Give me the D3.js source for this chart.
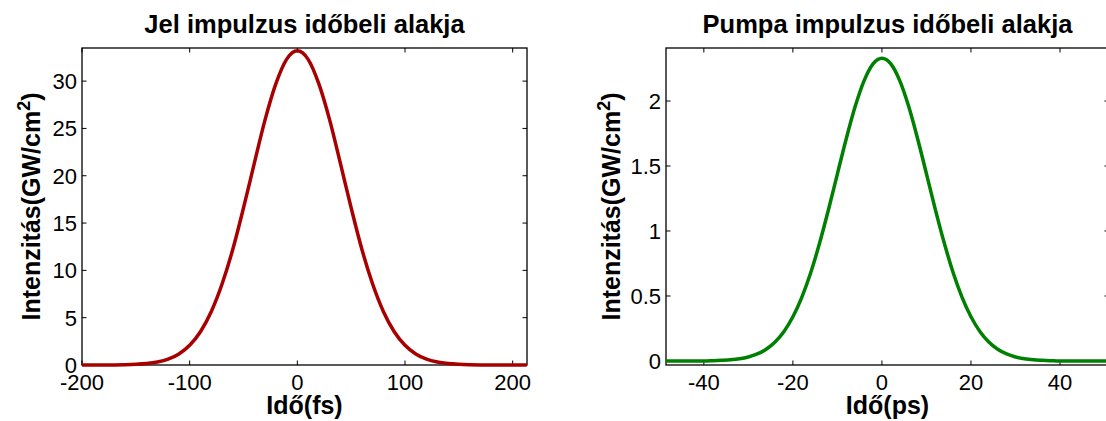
<!DOCTYPE html>
<html>
<head>
<meta charset="utf-8">
<script src="https://cdn.jsdelivr.net/npm/d3@7"></script>
<style>
  body { margin: 0; background: #fff; }
  text { font-family: "Liberation Sans", Arial, sans-serif; fill: #000; }
</style>
</head>
<body>
<div id="chart"></div>
<script>
// Jel impulzus (fs)
const jelTime  = [-200, -190, -180, -170, -160, -150, -140, -130, -120, -110, -100, -90, -80, -70, -60, -50, -40, -30, -20, -10,
                  0, 10, 20, 30, 40, 50, 60, 70, 80, 90, 100, 110, 120, 130, 140, 150, 160, 170, 180, 190, 200, 213];
const jelValue = [0, 0, 0, 0.01, 0.03, 0.07, 0.15, 0.31, 0.61, 1.16, 2.08, 3.51, 5.63, 8.53, 12.2, 16.6, 21.3, 25.9, 29.7, 32.3,
                  33.2, 32.3, 29.7, 25.9, 21.3, 16.6, 12.2, 8.53, 5.63, 3.51, 2.08, 1.16, 0.61, 0.31, 0.15, 0.07, 0.03, 0.01, 0, 0, 0, 0];
const jelXTicks = [-200, -100, 0, 100, 200];
const jelYTicks = [0, 5, 10, 15, 20, 25, 30];

// Pumpa impulzus (ps)
const pumpaTime  = [-48.5, -44, -40, -38, -36, -34, -32, -30, -28, -26, -24, -22, -20, -18, -16, -14, -12, -10, -8, -6, -4, -2,
                    0, 2, 4, 6, 8, 10, 12, 14, 16, 18, 20, 22, 24, 26, 28, 30, 32, 34, 36, 38, 40, 44, 51];
const pumpaValue = [0, 0, 0, 0.002, 0.005, 0.009, 0.017, 0.031, 0.054, 0.09, 0.146, 0.227, 0.34, 0.49, 0.679, 0.907, 1.165, 1.44, 1.712, 1.959, 2.157, 2.286,
                    2.33, 2.286, 2.157, 1.959, 1.712, 1.44, 1.165, 0.907, 0.679, 0.49, 0.34, 0.227, 0.146, 0.09, 0.054, 0.031, 0.017, 0.009, 0.005, 0.002, 0, 0, 0];
const pumpaXTicks = [-40, -20, 0, 20, 40];
const pumpaYTicks = [0, 0.5, 1, 1.5, 2];

const svg = d3.select('#chart')
              .append('svg')
              .attr('width', 1106)
              .attr('height', 421);

function drawPanel(p) {
  var x = d3.scaleLinear().domain(p.xDomain).range([p.left, p.right]);
  var y = d3.scaleLinear().domain(p.yDomain).range([p.bottom, p.top]);
  var g = svg.append('g');
  var tickLen = 4.5;

  // box
  g.append('rect')
   .attr('x', p.left).attr('y', p.top)
   .attr('width', p.right - p.left).attr('height', p.bottom - p.top)
   .attr('fill', 'none').attr('stroke', '#000').attr('stroke-width', 1.3);

  // inward ticks on all four sides
  p.xTicks.forEach(function(t) {
    g.append('line').attr('x1', x(t)).attr('x2', x(t)).attr('y1', p.bottom).attr('y2', p.bottom - tickLen).attr('stroke', '#000');
    g.append('line').attr('x1', x(t)).attr('x2', x(t)).attr('y1', p.top).attr('y2', p.top + tickLen).attr('stroke', '#000');
    g.append('text').attr('x', x(t)).attr('y', p.bottom + 25)
     .attr('text-anchor', 'middle').style('font-size', '22px').text(String(t));
  });
  p.yTicks.forEach(function(t) {
    g.append('line').attr('x1', p.left).attr('x2', p.left + tickLen).attr('y1', y(t)).attr('y2', y(t)).attr('stroke', '#000');
    g.append('line').attr('x1', p.right).attr('x2', p.right - tickLen).attr('y1', y(t)).attr('y2', y(t)).attr('stroke', '#000');
    g.append('text').attr('x', p.left - 5).attr('y', y(t) + 8)
     .attr('text-anchor', 'end').style('font-size', '22px').text(String(t));
  });

  var line = d3.line()
               .x(function(d) { return x(d[0]); })
               .y(function(d) { return y(d[1]); })
               .curve(d3.curveMonotoneX);

  g.append('path')
   .datum(d3.zip(p.time, p.value))
   .attr('d', line)
   .attr('fill', 'none')
   .attr('stroke', p.color)
   .attr('stroke-width', 3.5)
   .attr('stroke-linejoin', 'round');

  var cx = (p.left + p.right) / 2;
  g.append('text').attr('x', cx).attr('y', 33)
   .attr('text-anchor', 'middle').style('font-size', '25.5px').style('font-weight', 'bold').text(p.title);
  g.append('text').attr('x', cx).attr('y', 414)
   .attr('text-anchor', 'middle').style('font-size', '25px').style('font-weight', 'bold').text(p.xLabel);

  var yl = g.append('text')
            .attr('transform', 'translate(' + p.yLabelX + ',' + ((p.top + p.bottom) / 2) + ') rotate(-90)')
            .attr('text-anchor', 'middle').style('font-size', '25px').style('font-weight', 'bold');
  yl.append('tspan').text('Intenzitás(GW/cm');
  yl.append('tspan').attr('dy', -10).style('font-size', '18px').text('2');
  yl.append('tspan').attr('dy', 10).text(')');
}

drawPanel({
  left: 82, right: 527, top: 48, bottom: 365,
  xDomain: [-200, 213.3], yDomain: [0, 33.5],
  xTicks: jelXTicks, yTicks: jelYTicks,
  time: jelTime, value: jelValue, color: '#a80000',
  title: 'Jel impulzus időbeli alakja', xLabel: 'Idő(fs)', yLabelX: 40
});

drawPanel({
  left: 666, right: 1109, top: 48, bottom: 365,
  xDomain: [-48.5, 51], yDomain: [-0.031, 2.408],
  xTicks: pumpaXTicks, yTicks: pumpaYTicks,
  time: pumpaTime, value: pumpaValue, color: '#008000',
  title: 'Pumpa impulzus időbeli alakja', xLabel: 'Idő(ps)', yLabelX: 620
});
</script>
</body>
</html>
